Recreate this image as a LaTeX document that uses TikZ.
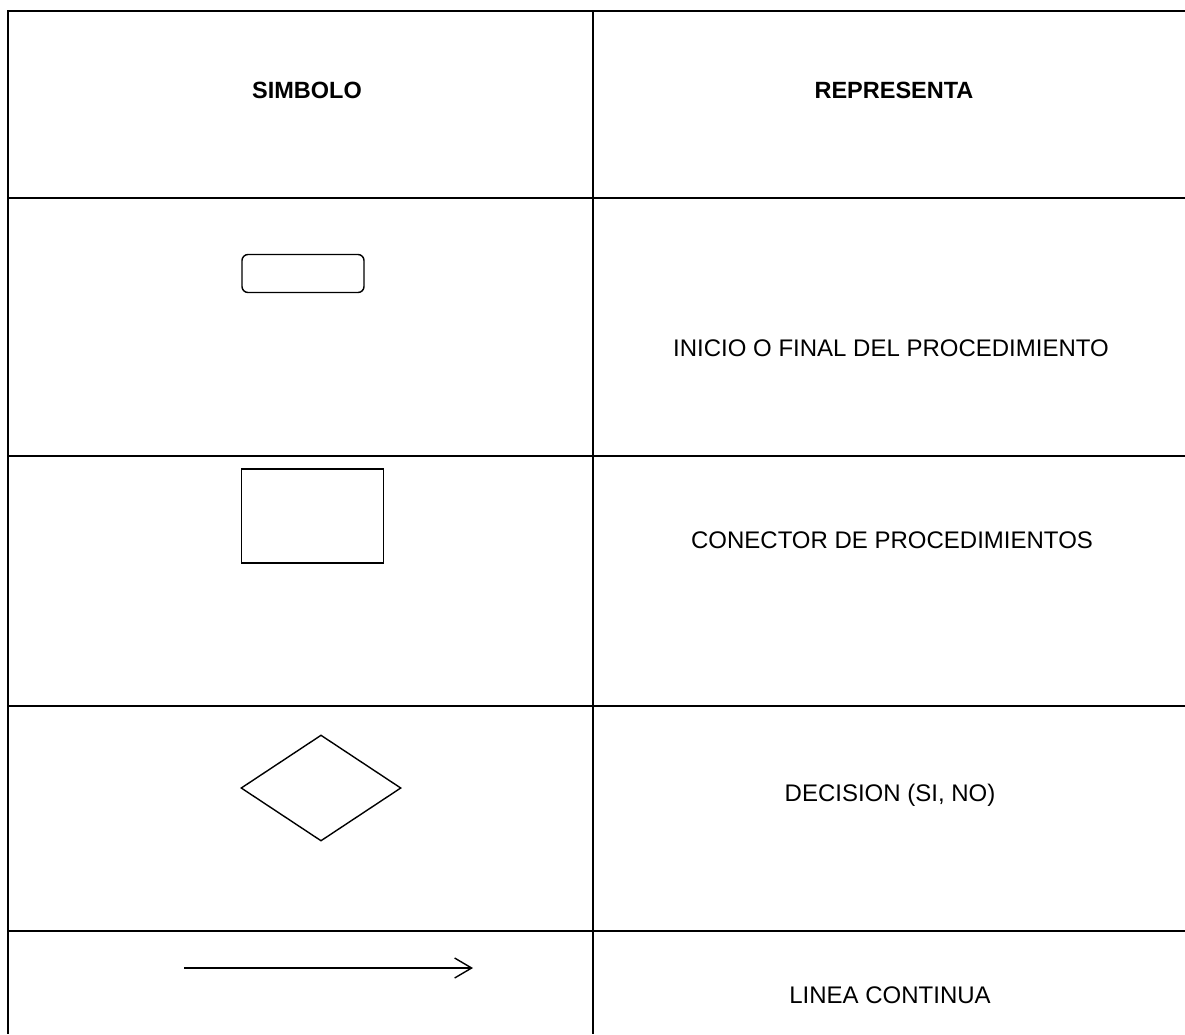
\documentclass[tikz,border=0pt]{standalone}
\usepackage{fontspec}
\setmainfont{Liberation Sans}
\usetikzlibrary{arrows.meta,shapes.geometric}
\begin{document}
\begin{tikzpicture}[x=1pt,y=-1pt,
	rejilla/.style={line width=1.7pt},
	simbolo/.style={draw,line width=1.4pt,inner sep=0pt},
	texto/.style={font=\fontsize{24}{28}\selectfont},
	cabecera/.style={font=\fontsize{23.5}{27}\selectfont\bfseries}]
		\useasboundingbox (0,0) rectangle (1185,1034);
		\draw[rejilla] (1185,11)--(8,11)--(8,1034);
		\draw[rejilla] (593,11)--(593,1034);
		\foreach \y in {198,456,706,931} \draw[rejilla] (8,\y)--(1185,\y);
		\node[cabecera] (simbolo) at (307,90) {SIMBOLO};
		\node[cabecera] (representa) at (894,90) {REPRESENTA};
		\node[simbolo,rounded corners=6pt,minimum width=122pt,minimum height=38pt] (inicio) at (303,273.5) {};
		\node[simbolo,minimum width=142pt,minimum height=94pt] (conector) at (312.5,516) {};
		\node[simbolo,diamond,minimum width=160pt,minimum height=106pt] (decision) at (321,788) {};
		\coordinate (flechaA) at (184,968);
		\coordinate (flechaB) at (473,968);
		\draw[line width=1.4pt,-{Straight Barb[length=17pt,width=20pt]}] (flechaA)--(flechaB);
		\node[texto] (txtinicio) at (891,348) {INICIO O FINAL DEL PROCEDIMIENTO};
		\node[texto] (txtconector) at (892,540) {CONECTOR DE PROCEDIMIENTOS};
		\node[texto] (txtdecision) at (890,795) {DECISION (SI, NO)};
		\node[texto] (txtlinea) at (890,995) {LINEA CONTINUA};
\end{tikzpicture}
\end{document}
